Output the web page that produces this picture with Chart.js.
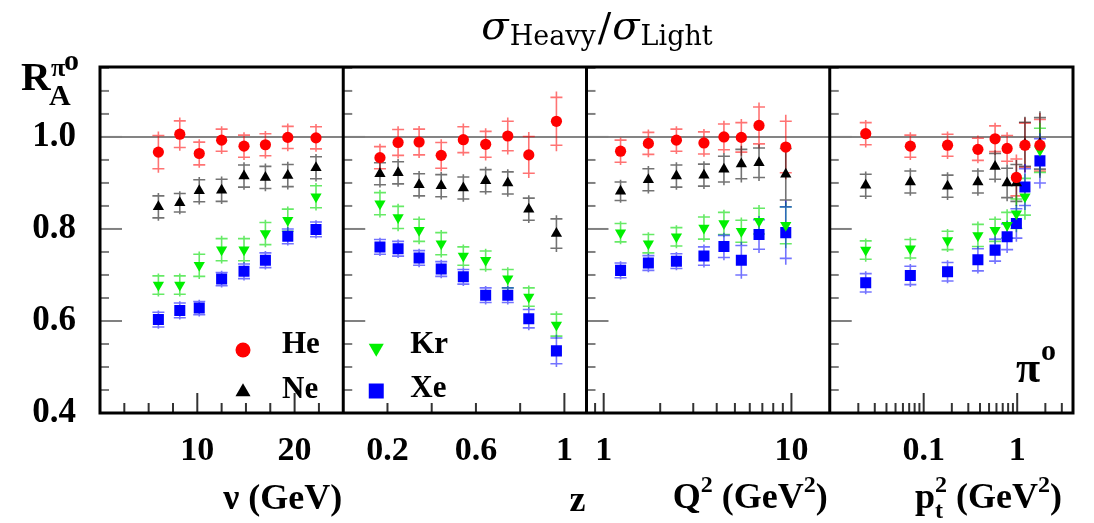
<!DOCTYPE html>
<html>
<head>
<meta charset="utf-8">
<script src="https://cdn.jsdelivr.net/npm/chart.js@4.4.1/dist/chart.umd.min.js"></script>
<style>
  html, body { margin: 0; padding: 0; background: #fff; }
  #wrap { position: relative; width: 1094px; height: 523px; }
</style>
</head>
<body>
<div id="wrap"><canvas id="myChart" width="1094" height="523"></canvas></div>
<script>
// x values of the bins in each panel
const nuValues = [6.0, 8.2, 10.2, 12.5, 14.8, 17.0, 19.3, 22.2];
const zValues = [0.166, 0.248, 0.343, 0.443, 0.543, 0.644, 0.744, 0.839, 0.964];
const q2Values = [1.23, 1.73, 2.44, 3.42, 4.37, 5.41, 6.72, 9.33];
const pt2Values = [0.024, 0.072, 0.18, 0.38, 0.58, 0.78, 0.98, 1.21, 1.75];

// R_A vs nu
const heNu = [0.967, 1.006, 0.964, 0.993, 0.980, 0.983, 0.999, 0.998];
const neNu = [0.848, 0.857, 0.883, 0.884, 0.915, 0.912, 0.916, 0.933];
const krNu = [0.678, 0.678, 0.721, 0.755, 0.755, 0.790, 0.819, 0.870];
const xeNu = [0.603, 0.623, 0.628, 0.691, 0.708, 0.732, 0.784, 0.799];
const heNuErr = [0.045, 0.036, 0.031, 0.03, 0.03, 0.03, 0.03, 0.03];
const neNuErr = [0.03, 0.025, 0.03, 0.03, 0.03, 0.03, 0.03, 0.03];
const krNuErr = [0.025, 0.025, 0.03, 0.03, 0.03, 0.03, 0.03, 0.03];
const xeNuErr = [0.02, 0.02, 0.018, 0.018, 0.02, 0.02, 0.02, 0.02];

// R_A vs z
const heZ = [0.955, 0.988, 0.989, 0.960, 0.994, 0.984, 1.002, 0.961, 1.034];
const neZ = [0.920, 0.922, 0.896, 0.894, 0.889, 0.905, 0.900, 0.843, 0.790];
const krZ = [0.855, 0.825, 0.797, 0.768, 0.741, 0.732, 0.692, 0.652, 0.591];
const xeZ = [0.761, 0.757, 0.737, 0.713, 0.696, 0.656, 0.656, 0.605, 0.535];
const heZErr = [0.03, 0.035, 0.035, 0.035, 0.035, 0.035, 0.04, 0.05, 0.065];
const neZErr = [0.03, 0.03, 0.03, 0.03, 0.03, 0.03, 0.03, 0.03, 0.04];
const krZErr = [0.03, 0.03, 0.03, 0.03, 0.025, 0.025, 0.025, 0.025, 0.03];
const xeZErr = [0.02, 0.02, 0.02, 0.02, 0.02, 0.02, 0.02, 0.025, 0.035];

// R_A vs Q2
const heQ2 = [0.969, 0.986, 0.993, 0.987, 1.000, 0.999, 1.025, 0.978];
const neQ2 = [0.882, 0.907, 0.915, 0.917, 0.930, 0.941, 0.944, 0.919];
const krQ2 = [0.792, 0.768, 0.783, 0.802, 0.812, 0.795, 0.817, 0.808];
const xeQ2 = [0.710, 0.726, 0.730, 0.741, 0.762, 0.732, 0.788, 0.792];
const heQ2Err = [0.03, 0.03, 0.03, 0.03, 0.035, 0.04, 0.05, 0.07];
const neQ2Err = [0.025, 0.03, 0.03, 0.03, 0.035, 0.04, 0.04, 0.07];
const krQ2Err = [0.025, 0.025, 0.025, 0.03, 0.03, 0.03, 0.035, 0.05];
const xeQ2Err = [0.02, 0.02, 0.02, 0.025, 0.03, 0.04, 0.04, 0.07];

// R_A vs pt2
const hePt2 = [1.007, 0.980, 0.982, 0.973, 0.996, 0.975, 0.912, 0.982, 0.982];
const nePt2 = [0.895, 0.902, 0.893, 0.902, 0.936, 0.900, 0.900, 0.984, 0.986];
const krPt2 = [0.754, 0.757, 0.775, 0.786, 0.797, 0.808, 0.833, 0.870, 0.971];
const xePt2 = [0.683, 0.699, 0.707, 0.733, 0.754, 0.783, 0.812, 0.891, 0.948];
const hePt2Err = [0.03, 0.03, 0.03, 0.03, 0.035, 0.035, 0.05, 0.06, 0.07];
const nePt2Err = [0.03, 0.03, 0.03, 0.03, 0.035, 0.04, 0.05, 0.06, 0.07];
const krPt2Err = [0.025, 0.025, 0.025, 0.03, 0.03, 0.035, 0.04, 0.05, 0.06];
const xePt2Err = [0.025, 0.025, 0.025, 0.03, 0.03, 0.035, 0.04, 0.05, 0.06];

// tick labels
const yTickLabels = [0.4, 0.6, 0.8, 1.0];
const nuTickLabels = [10, 20];
const zTickLabels = [0.2, 0.6, 1];
const q2TickLabels = [1, 10];
const pt2TickLabels = [0.1, 1];

const serif = "'Liberation Serif', 'DejaVu Serif', serif";

const species = [
  { label: "He", color: "#ff0000", errColor: "rgba(255,0,0,0.55)", style: "circle", radius: 5.6, rotation: 0 },
  { label: "Ne", color: "#000000", errColor: "rgba(0,0,0,0.55)", style: "triangle", radius: 6.5, rotation: 0 },
  { label: "Kr", color: "#00f000", errColor: "rgba(0,220,0,0.6)", style: "triangle", radius: 6.5, rotation: 180 },
  { label: "Xe", color: "#0000ff", errColor: "rgba(0,0,255,0.55)", style: "rect", radius: 7.8, rotation: 0 },
];

const panels = [
  { axis: "x1", xs: nuValues, ys: [heNu, neNu, krNu, xeNu], errs: [heNuErr, neNuErr, krNuErr, xeNuErr] },
  { axis: "x2", xs: zValues, ys: [heZ, neZ, krZ, xeZ], errs: [heZErr, neZErr, krZErr, xeZErr] },
  { axis: "x3", xs: q2Values, ys: [heQ2, neQ2, krQ2, xeQ2], errs: [heQ2Err, neQ2Err, krQ2Err, xeQ2Err] },
  { axis: "x4", xs: pt2Values, ys: [hePt2, nePt2, krPt2, xePt2], errs: [hePt2Err, nePt2Err, krPt2Err, xePt2Err] },
];

const datasets = [];
panels.forEach((panel) => {
  species.forEach((sp, k) => {
    datasets.push({
      label: sp.label,
      xAxisID: panel.axis,
      yAxisID: "y",
      data: panel.xs.map((x, i) => ({ x: x, y: panel.ys[k][i] })),
      errors: panel.errs[k],
      errColor: sp.errColor,
      pointStyle: sp.style,
      pointRadius: sp.radius,
      pointRotation: sp.rotation,
      pointBackgroundColor: sp.color,
      pointBorderColor: sp.color,
      pointBorderWidth: 0,
      showLine: false,
    });
  });
});

// minor/major tick marks drawn inside the frame
const xTickMarks = {
  x1: { minor: [2.5, 5, 7.5, 12.5, 15, 17.5, 22.5], major: [10, 20] },
  x2: { minor: [0.2, 0.4, 0.6, 0.8], major: [1] },
  x3: { minor: [0.9, 2, 3, 4, 5, 6, 7, 8, 9], major: [1, 10] },
  x4: { minor: [0.02, 0.03, 0.04, 0.05, 0.06, 0.07, 0.08, 0.09, 0.2, 0.3, 0.4, 0.5, 0.6, 0.7, 0.8, 0.9, 2, 3], major: [0.1, 1] },
};

const xAxis = (type, min, max, labels) => ({
  type: type,
  position: "bottom",
  stack: "panels",
  min: min,
  max: max,
  grid: { display: false, drawTicks: false },
  border: { display: false },
  ticks: {
    color: "#000",
    font: { family: serif, weight: "bold", size: 34 },
    padding: 18,
    maxRotation: 0,
    autoSkip: false,
    callback: (v) => String(v),
  },
  afterBuildTicks: (scale) => {
    scale.ticks = labels.map((v) => ({ value: v }));
  },
  afterFit: (scale) => {
    scale.height = 110;
  },
});

const drawRuns = (ctx, runs, x, align) => {
  let total = 0;
  runs.forEach((r) => {
    ctx.font = r.font;
    r.w = ctx.measureText(r.text).width;
    total += r.dx || 0;
    total += r.w;
  });
  let cx = align === "right" ? x - total : align === "center" ? x - total / 2 : x;
  runs.forEach((r) => {
    cx += r.dx || 0;
    ctx.font = r.font;
    ctx.fillText(r.text, cx, r.y);
    if (!r.noAdvance) cx += r.w;
  });
};

const decorations = {
  id: "decorations",
  beforeDatasetsDraw(chart) {
    const { ctx, chartArea: a, scales } = chart;
    const yScale = scales.y;
    ctx.save();
    // reference line at 1
    const yOne = yScale.getPixelForValue(1.0);
    ctx.strokeStyle = "rgba(110,110,110,0.85)";
    ctx.lineWidth = 2;
    ctx.beginPath();
    ctx.moveTo(a.left, yOne);
    ctx.lineTo(a.right, yOne);
    ctx.stroke();

    // error bars
    ctx.lineWidth = 1.6;
    chart.data.datasets.forEach((ds) => {
      const xScale = scales[ds.xAxisID];
      ctx.strokeStyle = ds.errColor;
      ds.data.forEach((pt, i) => {
        const err = ds.errors[i];
        const px = xScale.getPixelForValue(pt.x);
        const top = yScale.getPixelForValue(pt.y + err);
        const bot = yScale.getPixelForValue(pt.y - err);
        const capTop = yScale.getPixelForValue(pt.y + err * 0.8);
        const capBot = yScale.getPixelForValue(pt.y - err * 0.8);
        ctx.beginPath();
        ctx.moveTo(px, top);
        ctx.lineTo(px, bot);
        ctx.moveTo(px - 6, capTop);
        ctx.lineTo(px + 6, capTop);
        ctx.moveTo(px - 6, capBot);
        ctx.lineTo(px + 6, capBot);
        ctx.stroke();
      });
    });
    ctx.restore();
  },
  afterDraw(chart) {
    const { ctx, chartArea: a, scales } = chart;
    const yScale = scales.y;
    const panelAxes = ["x1", "x2", "x3", "x4"];
    ctx.save();

    // y ticks on the left side of each panel
    ctx.strokeStyle = "#808080";
    ctx.lineWidth = 2;
    panelAxes.forEach((id) => {
      const left = scales[id].left;
      for (let v = 0.45; v < 1.16; v += 0.05) {
        const val = Math.round(v * 100) / 100;
        const py = yScale.getPixelForValue(val);
        const isMajor = [0.6, 0.8, 1.0].includes(val);
        ctx.beginPath();
        ctx.moveTo(left, py);
        ctx.lineTo(left + (isMajor ? 22 : 9), py);
        ctx.stroke();
      }
    });

    // x ticks along the bottom
    ctx.strokeStyle = "#333";
    panelAxes.forEach((id) => {
      const s = scales[id];
      xTickMarks[id].minor.forEach((v) => {
        const px = s.getPixelForValue(v);
        ctx.beginPath();
        ctx.moveTo(px, a.bottom);
        ctx.lineTo(px, a.bottom - 10);
        ctx.stroke();
      });
      xTickMarks[id].major.forEach((v) => {
        const px = s.getPixelForValue(v);
        ctx.beginPath();
        ctx.moveTo(px, a.bottom);
        ctx.lineTo(px, a.bottom - 20);
        ctx.stroke();
      });
    });

    // frames
    ctx.strokeStyle = "#000";
    ctx.lineWidth = 3;
    ctx.strokeRect(a.left, a.top, a.right - a.left, a.bottom - a.top);
    ["x2", "x3", "x4"].forEach((id) => {
      const px = scales[id].left;
      ctx.beginPath();
      ctx.moveTo(px, a.top);
      ctx.lineTo(px, a.bottom);
      ctx.stroke();
    });

    ctx.fillStyle = "#000";
    ctx.textBaseline = "alphabetic";
    ctx.textAlign = "left";

    // title
    const t = "'DejaVu Serif', serif";
    drawRuns(ctx, [
      { text: "σ", font: `italic 40px ${t}`, y: 39 },
      { text: "Heavy", font: `27px ${t}`, y: 45, dx: 1 },
      { text: "/", font: `40px ${t}`, y: 41, dx: 2 },
      { text: "σ", font: `italic 40px ${t}`, y: 39, dx: 1 },
      { text: "Light", font: `27px ${t}`, y: 45, dx: 1 },
    ], 597, "center");

    // y label
    ctx.font = `bold 41px ${serif}`;
    ctx.fillText("R", 21, 90);
    ctx.font = `bold 30px ${serif}`;
    ctx.fillText("A", 49, 105);
    ctx.font = `bold 26px ${serif}`;
    ctx.fillText("π", 51, 76);
    ctx.font = `bold 30px ${serif}`;
    ctx.fillText("o", 64, 70);

    // axis titles
    const big = `bold 36px ${serif}`;
    const sup = `bold 24px ${serif}`;
    drawRuns(ctx, [{ text: "ν (GeV)", font: big, y: 509 }], scales.x1.right - 1, "right");
    drawRuns(ctx, [{ text: "z", font: big, y: 511 }], scales.x2.right - 1, "right");
    drawRuns(ctx, [
      { text: "Q", font: big, y: 508 },
      { text: "2", font: sup, y: 492 },
      { text: " (GeV", font: big, y: 508 },
      { text: "2", font: sup, y: 492 },
      { text: ")", font: big, y: 508 },
    ], scales.x3.right - 2, "right");
    drawRuns(ctx, [
      { text: "p", font: big, y: 508 },
      { text: "t", font: sup, y: 518, noAdvance: true },
      { text: "2", font: sup, y: 492 },
      { text: " (GeV", font: big, y: 508 },
      { text: "2", font: sup, y: 492 },
      { text: ")", font: big, y: 508 },
    ], scales.x4.right - 3, "right");

    // pi0 label
    ctx.font = `bold 44px ${serif}`;
    ctx.fillText("π", 1016, 382);
    ctx.font = `bold 30px ${serif}`;
    ctx.fillText("o", 1041, 360);

    // legend
    const legendRows = [
      { sp: species[0], x: scales.x1.left + 143, y: 350, tx: scales.x1.left + 182, ty: 353 },
      { sp: species[1], x: scales.x1.left + 143, y: 392, tx: scales.x1.left + 182, ty: 398 },
      { sp: species[2], x: scales.x2.left + 33, y: 348, tx: scales.x2.left + 67, ty: 353 },
      { sp: species[3], x: scales.x2.left + 33, y: 391, tx: scales.x2.left + 67, ty: 397 },
    ];
    legendRows.forEach((row) => {
      ctx.fillStyle = row.sp.color;
      ctx.strokeStyle = row.sp.color;
      Chart.helpers.drawPoint(ctx, {
        pointStyle: row.sp.style,
        radius: row.sp.style === "rect" ? 10.6 : row.sp.style === "circle" ? 7.5 : 8.7,
        rotation: row.sp.rotation,
        borderWidth: 0,
      }, row.x, row.y);
      ctx.fillStyle = "#000";
      ctx.font = `bold 31px ${serif}`;
      ctx.fillText(row.sp.label, row.tx, row.ty);
    });
    ctx.restore();
  },
};

const chartCanvas = document.querySelector("#myChart");
new Chart(chartCanvas, {
  type: "scatter",
  data: { datasets: datasets },
  options: {
    responsive: false,
    animation: false,
    devicePixelRatio: 1,
    layout: { padding: { left: 0, right: 21, top: 67, bottom: 0 } },
    plugins: { legend: { display: false }, tooltip: { enabled: false }, title: { display: false } },
    scales: {
      y: {
        type: "linear",
        position: "left",
        min: 0.4,
        max: 1.152,
        grid: { display: false, drawTicks: false },
        border: { display: false },
        ticks: {
          color: "#000",
          font: { family: serif, weight: "bold", size: 35 },
          padding: 24,
          callback: (v) => v.toFixed(1),
        },
        afterBuildTicks: (scale) => {
          scale.ticks = yTickLabels.map((v) => ({ value: v }));
        },
        afterFit: (scale) => {
          scale.width = 100;
        },
      },
      x1: xAxis("linear", 0, 25, nuTickLabels),
      x2: xAxis("linear", 0, 1.1, zTickLabels),
      x3: xAxis("logarithmic", 0.81, 16, q2TickLabels),
      x4: xAxis("logarithmic", 0.0099, 3.95, pt2TickLabels),
    },
  },
  plugins: [decorations],
});
</script>
</body>
</html>
